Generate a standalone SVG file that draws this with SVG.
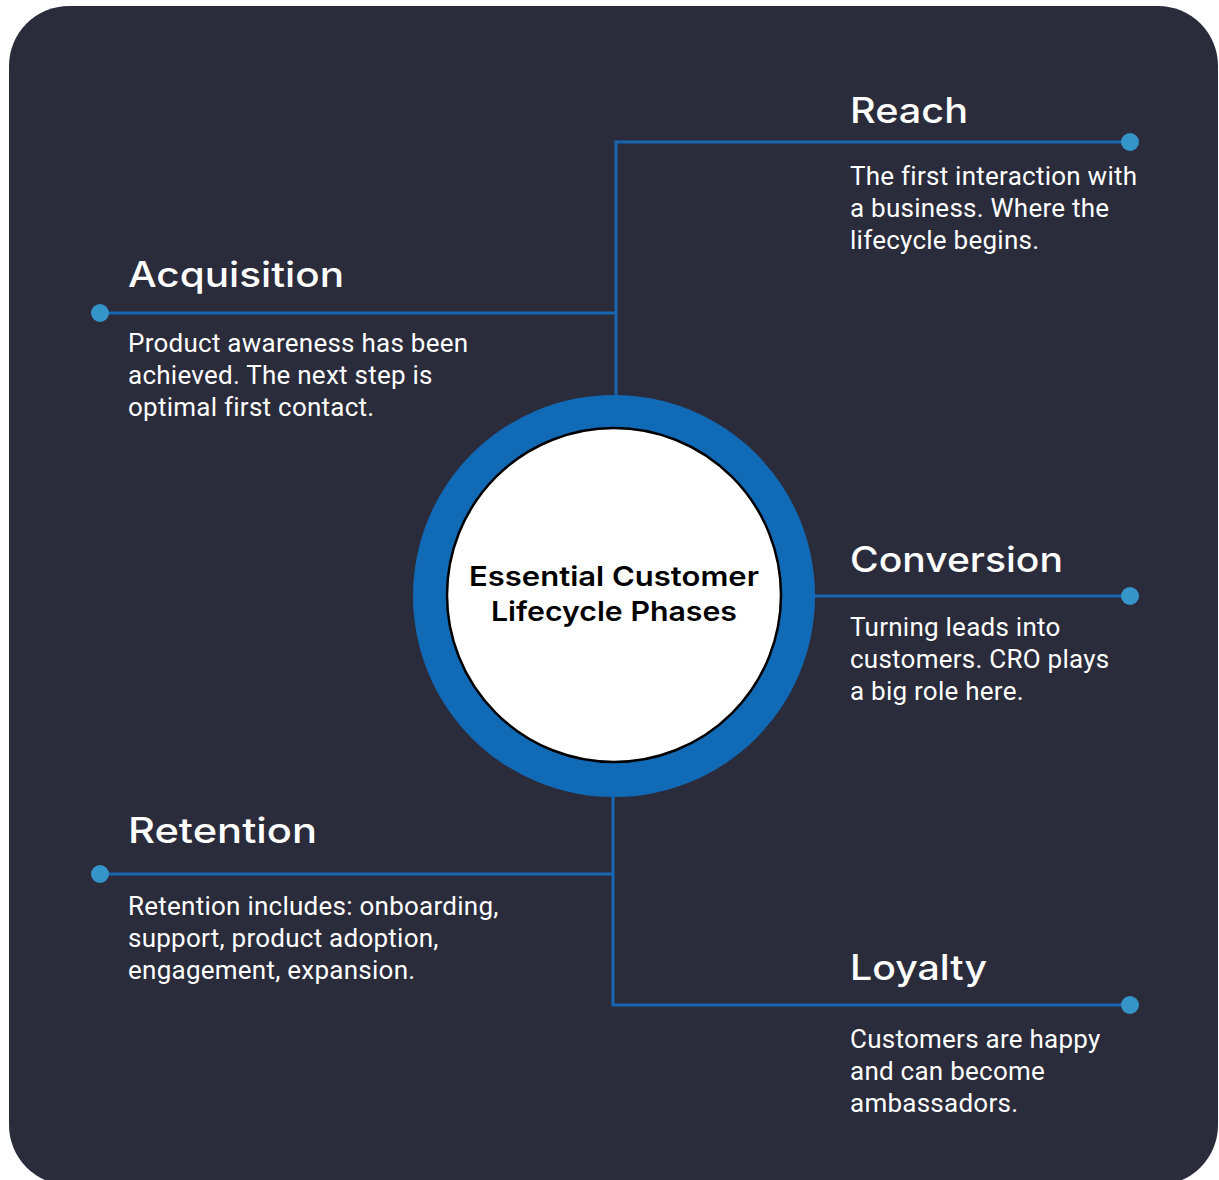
<svg xmlns="http://www.w3.org/2000/svg" width="1219" height="1180" viewBox="0 0 1219 1180">
<style>
.h{font-family:Inter,"Open Sans","Liberation Sans",sans-serif;font-weight:500;font-size:35px;fill:#ffffff}
.b{font-family:Roboto,"Liberation Sans",sans-serif;font-size:26px;letter-spacing:0.25px;fill:#ffffff}
.c{font-family:Inter,"Open Sans","Liberation Sans",sans-serif;font-weight:600;font-size:27px;fill:#000000}
.ln{stroke:#1767b3;stroke-width:3;fill:none}
.dot{fill:#3595c9}
</style>
<rect x="0" y="0" width="1219" height="1180" fill="#ffffff"/>
<rect x="9" y="6" width="1209" height="1179" rx="60" ry="60" fill="#2a2b3b"/>
<g id="connectors">
<polyline class="ln" points="1130,142 616,142 616,397"/>
<line class="ln" x1="100" y1="313" x2="616" y2="313"/>
<line class="ln" x1="813" y1="596" x2="1130" y2="596"/>
<polyline class="ln" points="100,874 613,874"/>
<polyline class="ln" points="613,795 613,1005 1130,1005"/>
<circle class="dot" cx="1130" cy="142" r="9"/>
<circle class="dot" cx="100" cy="313" r="9"/>
<circle class="dot" cx="1130" cy="596" r="9"/>
<circle class="dot" cx="100" cy="874" r="9"/>
<circle class="dot" cx="1130" cy="1005" r="9"/>
</g>
<g id="center">
<circle cx="614" cy="596" r="201" fill="#116ab6"/>
<circle cx="614" cy="595" r="167" fill="#ffffff" stroke="#000000" stroke-width="2.5"/>
<text class="c" x="614" y="586" text-anchor="middle" textLength="290" lengthAdjust="spacingAndGlyphs">Essential Customer</text>
<text class="c" x="614" y="621" text-anchor="middle" textLength="246" lengthAdjust="spacingAndGlyphs">Lifecycle Phases</text>
</g>
<g id="reach">
<text class="h" x="850" y="123" textLength="118" lengthAdjust="spacingAndGlyphs">Reach</text>
<text class="b" x="850" y="185">The first interaction with</text>
<text class="b" x="850" y="217">a business. Where the</text>
<text class="b" x="850" y="249">lifecycle begins.</text>
</g>
<g id="acquisition">
<text class="h" x="128" y="287" textLength="216" lengthAdjust="spacingAndGlyphs">Acquisition</text>
<text class="b" x="128" y="352">Product awareness has been</text>
<text class="b" x="128" y="384">achieved. The next step is</text>
<text class="b" x="128" y="416">optimal first contact.</text>
</g>
<g id="conversion">
<text class="h" x="850" y="572" textLength="213" lengthAdjust="spacingAndGlyphs">Conversion</text>
<text class="b" x="850" y="636">Turning leads into</text>
<text class="b" x="850" y="668">customers. CRO plays</text>
<text class="b" x="850" y="700">a big role here.</text>
</g>
<g id="retention">
<text class="h" x="128" y="843" textLength="189" lengthAdjust="spacingAndGlyphs">Retention</text>
<text class="b" x="128" y="915">Retention includes: onboarding,</text>
<text class="b" x="128" y="947">support, product adoption,</text>
<text class="b" x="128" y="979">engagement, expansion.</text>
</g>
<g id="loyalty">
<text class="h" x="850" y="980" textLength="137" lengthAdjust="spacingAndGlyphs">Loyalty</text>
<text class="b" x="850" y="1048">Customers are happy</text>
<text class="b" x="850" y="1080">and can become</text>
<text class="b" x="850" y="1112">ambassadors.</text>
</g>
</svg>
